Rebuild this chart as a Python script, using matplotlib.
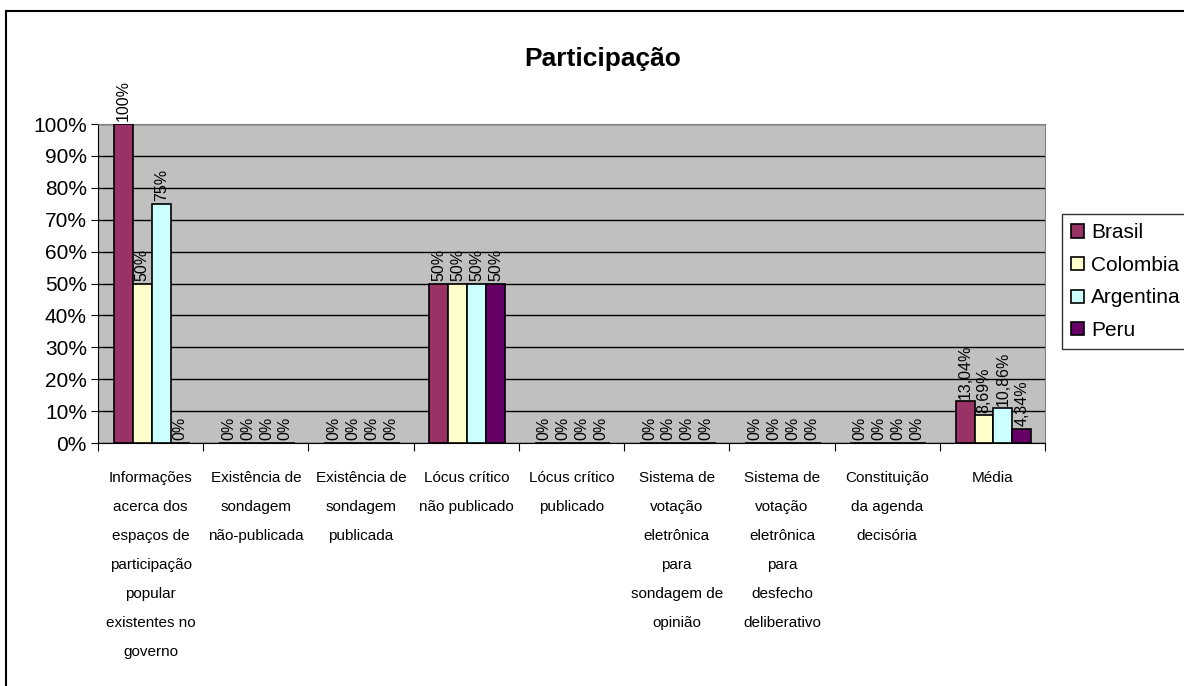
import numpy as np
import matplotlib.pyplot as plt
from matplotlib.patches import Rectangle
from matplotlib.ticker import FixedLocator, PercentFormatter

plt.rcParams['font.family'] = ['Liberation Sans', 'DejaVu Sans']

categories = [
    'Informações\nacerca dos\nespaços de\nparticipação\npopular\nexistentes no\ngoverno',
    'Existência de\nsondagem\nnão-publicada',
    'Existência de\nsondagem\npublicada',
    'Lócus crítico\nnão publicado',
    'Lócus crítico\npublicado',
    'Sistema de\nvotação\neletrônica\npara\nsondagem de\nopinião',
    'Sistema de\nvotação\neletrônica\npara\ndesfecho\ndeliberativo',
    'Constituição\nda agenda\ndecisória',
    'Média',
]
countries = ['Brasil', 'Colombia', 'Argentina', 'Peru']
brasil = [1.00, 0, 0, 0.50, 0, 0, 0, 0, 0.1304]
colombia = [0.50, 0, 0, 0.50, 0, 0, 0, 0, 0.0869]
argentina = [0.75, 0, 0, 0.50, 0, 0, 0, 0, 0.1086]
peru = [0, 0, 0, 0.50, 0, 0, 0, 0, 0.0434]
colors = ['#993366', '#FFFFCC', '#CCFFFF', '#660066']


def pct(v):
    s = '{:.2f}'.format(v * 100).rstrip('0').rstrip('.')
    return s.replace('.', ',') + '%'


fig = plt.figure(figsize=(11.84, 6.86), dpi=100)
ax = fig.add_axes([0.0828, 0.3542, 0.7998, 0.465])
ax.set_facecolor('#C0C0C0')

x = np.arange(len(categories))
w = 0.18
for i, (name, vals) in enumerate(zip(countries, [brasil, colombia, argentina, peru])):
    pos = x + (i - 1.5) * w + 0.01
    ax.bar(pos, vals, w, color=colors[i], edgecolor='black', linewidth=1.2,
           label=name, zorder=3)
    for xp, v in zip(pos, vals):
        ax.annotate(pct(v), (xp, v), xytext=(0, 2), textcoords='offset points',
                    rotation=90, ha='center', va='bottom', fontsize=11.5,
                    zorder=4, annotation_clip=False)

ax.set_xlim(-0.5, len(categories) - 0.5)
ax.set_ylim(0, 1)
ax.yaxis.set_major_locator(FixedLocator(np.arange(0, 1.01, 0.1)))
ax.yaxis.set_major_formatter(PercentFormatter(1.0, decimals=0))
ax.grid(axis='y', color='black', linewidth=1, zorder=1)
ax.tick_params(axis='y', labelsize=15, length=5, direction='out', pad=3)

# category labels sit between boundary ticks
ax.set_xticks(np.arange(-0.5, len(categories)), minor=False)
ax.set_xticklabels([])
ax.tick_params(axis='x', length=6, direction='out')
ax.set_xticks(x, minor=True)
ax.set_xticklabels(categories, minor=True, fontsize=11, linespacing=2.36,
                   va='top', ha='center')
ax.tick_params(axis='x', which='minor', length=0, pad=20)

for s in ['top', 'right']:
    ax.spines[s].set_color('#808080')
ax.spines['left'].set_color('black')
ax.spines['bottom'].set_color('black')

# title is centred on the whole chart, not on the plot area
ax.set_title('Participação', fontsize=19, fontweight='bold', pad=42, x=0.533)

leg = fig.legend(loc='upper left', bbox_to_anchor=(0.897, 0.688), fontsize=15,
                 frameon=True, fancybox=False, handlelength=0.6, handleheight=0.6,
                 handletextpad=0.35, labelspacing=0.65, borderpad=0.45,
                 borderaxespad=0)
leg.get_frame().set_edgecolor('black')
leg.get_frame().set_linewidth(1)

fig.patches.append(Rectangle((0.005, -0.1), 1.2, 1.084, transform=fig.transFigure,
                             fill=False, edgecolor='black', linewidth=1.5))

fig.savefig('out.png', dpi=100)
